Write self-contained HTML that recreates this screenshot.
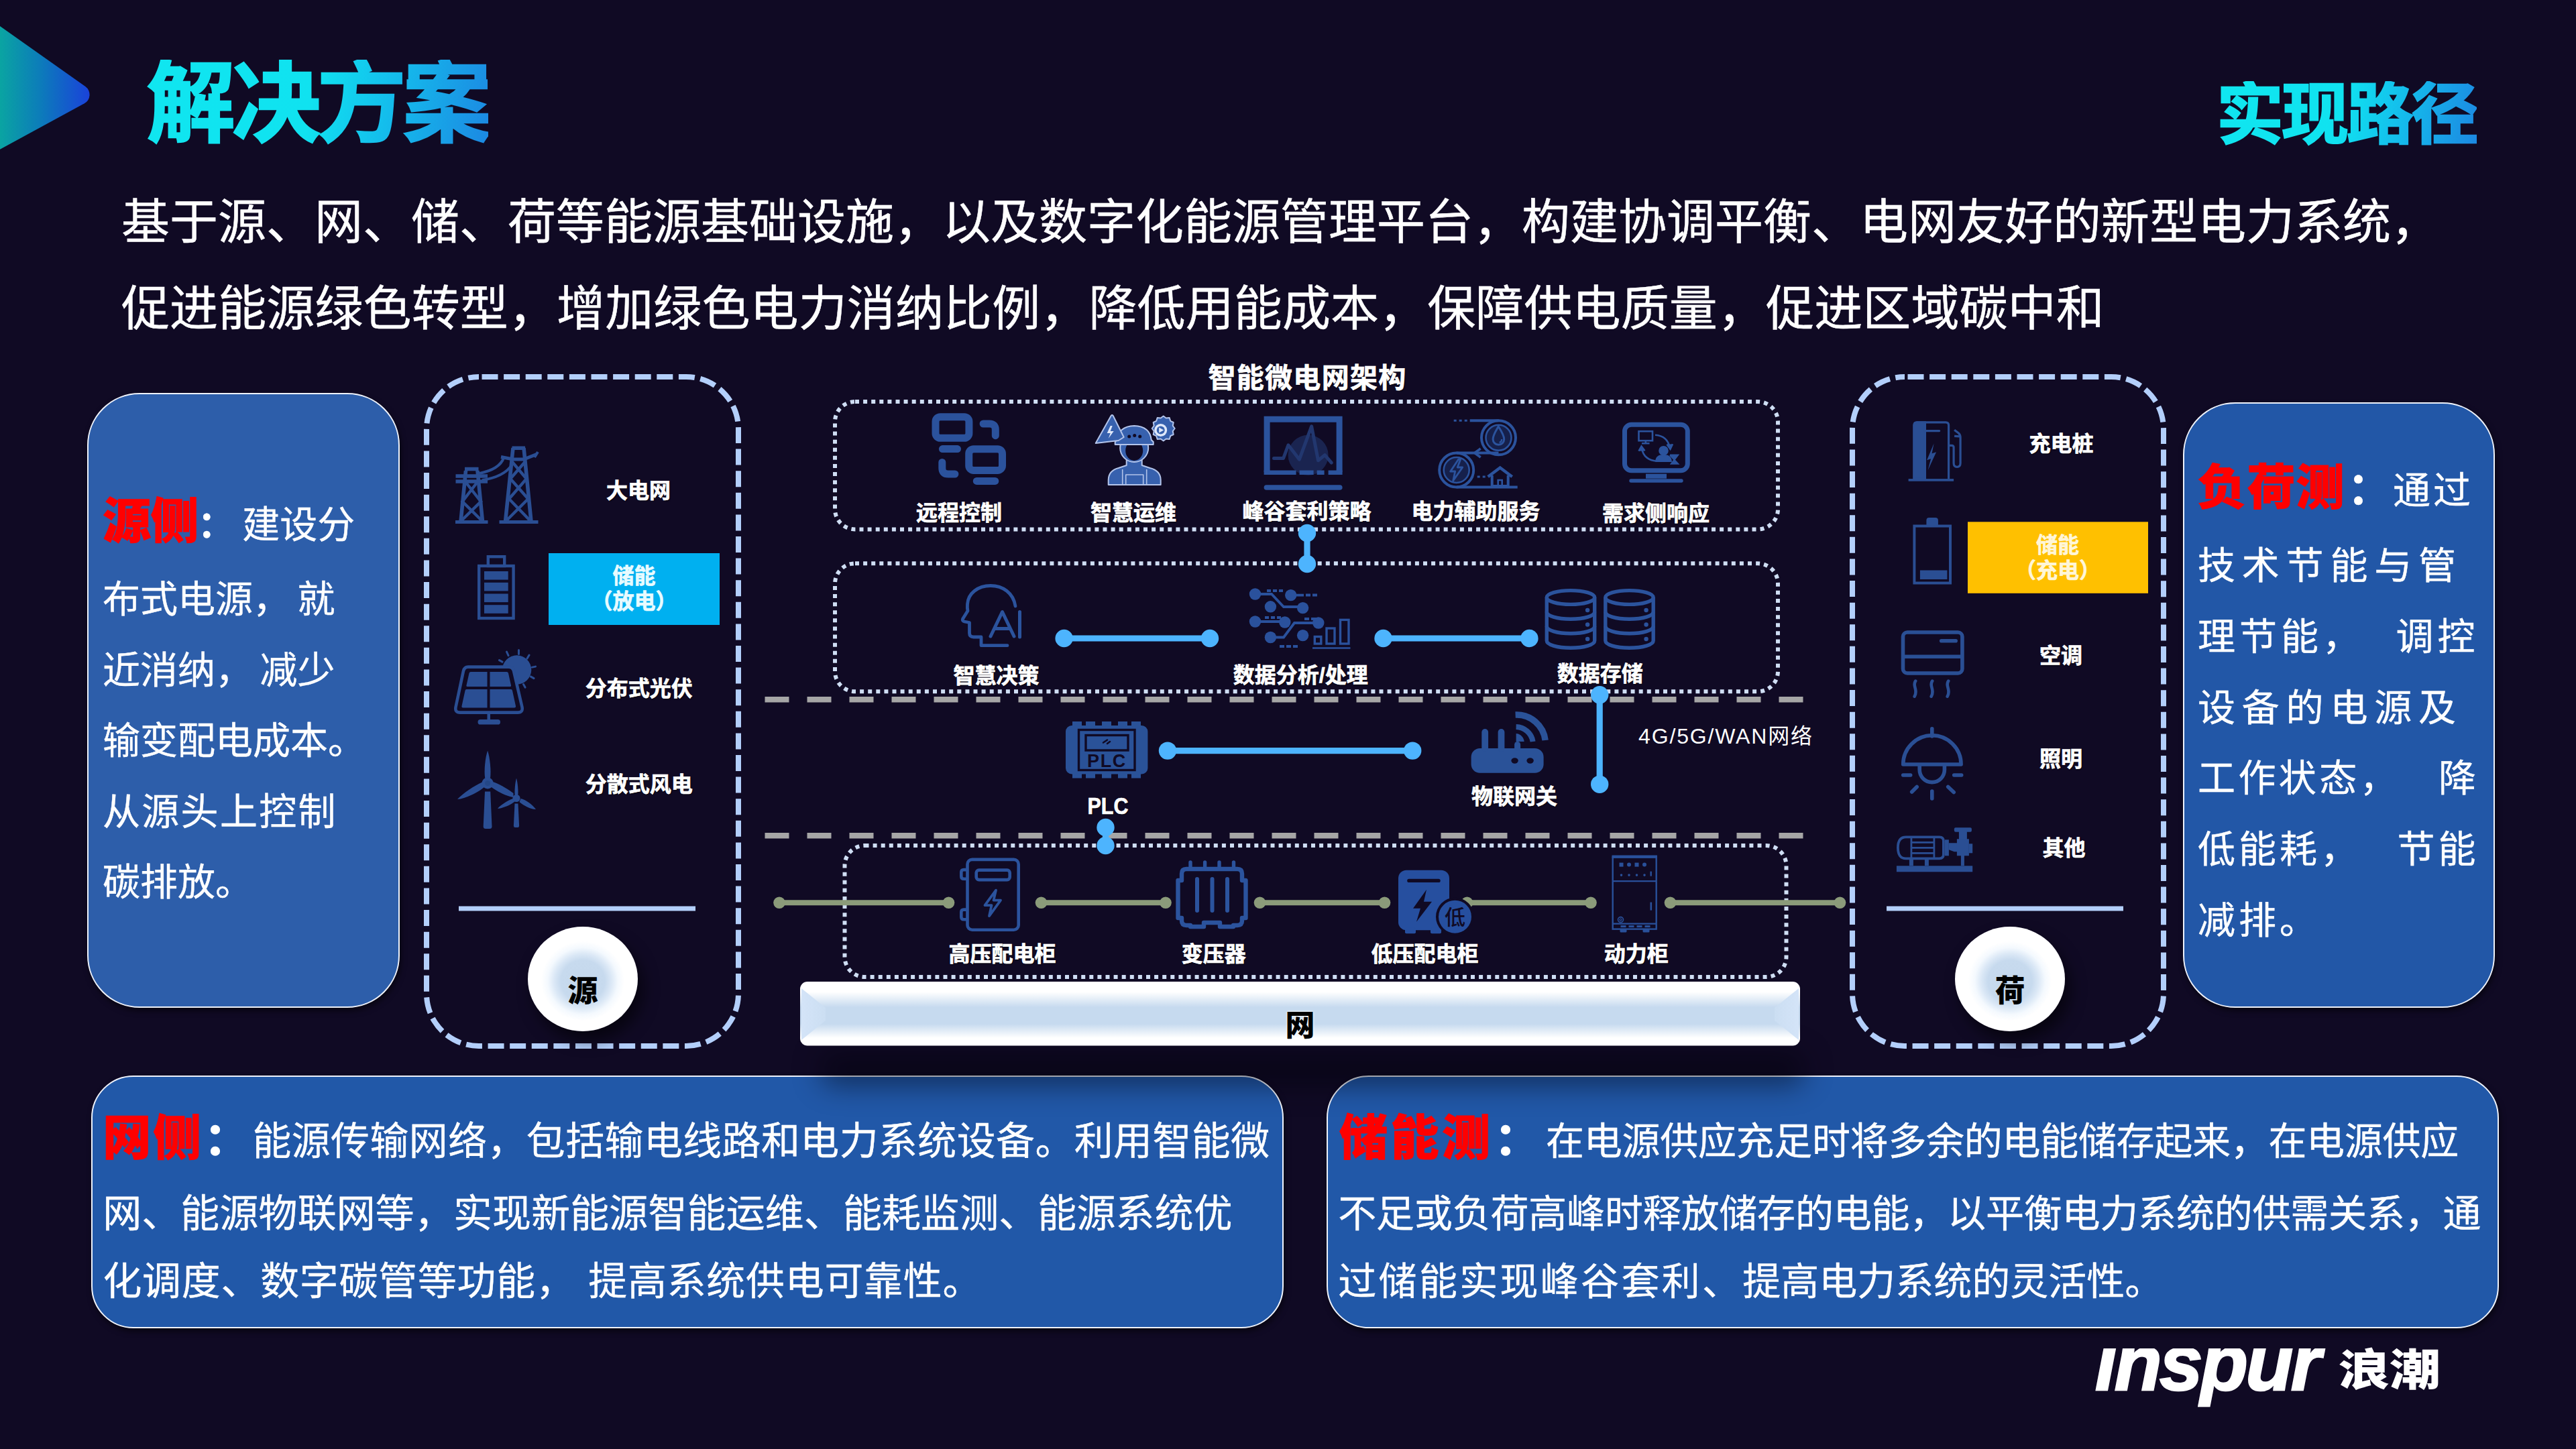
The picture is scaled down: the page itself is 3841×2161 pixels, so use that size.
<!DOCTYPE html>
<html lang="zh-CN">
<head>
<meta charset="utf-8">
<title>解决方案 - 实现路径</title>
<style>
html,body{margin:0;padding:0;}
body{width:3841px;height:2161px;overflow:hidden;background:#100a24;position:relative;
  font-family:"Liberation Sans","Noto Sans CJK SC",sans-serif;color:#fff;}
.abs{position:absolute;}
.t{position:absolute;white-space:nowrap;line-height:1;}
.grad{background:linear-gradient(100deg,#10e6f0 0%,#10e2f0 48%,#14bdec 70%,#1c88e2 100%);-webkit-background-clip:text;background-clip:text;color:transparent;font-weight:700;-webkit-text-stroke:2.4px transparent;}
#title{left:218.500px;top:89px;font-size:132.500px;letter-spacing:-5.200px;}
#sub{left:3305px;top:120.500px;font-size:100px;letter-spacing:-3px;}
.body{left:181px;font-size:72px;font-weight:400;letter-spacing:0;-webkit-text-stroke:.5px #fff;}
.panel{position:absolute;background:#2b5ba9;border:2.2px solid #eef2fa;box-sizing:border-box;box-shadow:2px 5px 9px rgba(0,0,0,.5);}
.pl{position:absolute;height:120px;line-height:120px;white-space:nowrap;-webkit-text-stroke:.4px #fff;}
.pl span{display:inline-block;line-height:120px;vertical-align:baseline;}
.red{-webkit-text-stroke:1px #ff0000;color:#ff0000;font-weight:900;font-size:72px;letter-spacing:-.6px;}
.colon{font-weight:700;font-size:66px;}
.dash{position:absolute;box-sizing:border-box;}
.lbl{margin-top:-.2px;position:absolute;white-space:nowrap;line-height:1;font-weight:700;font-size:32px;transform:translate(-50%,-50%);text-align:center;text-shadow:1px 1px 2px rgba(0,0,0,.8);-webkit-text-stroke-width:.7px;}
.lbl2{position:absolute;white-space:nowrap;line-height:1;font-weight:700;font-size:33px;transform:translate(-50%,-50%) scaleX(.92);text-align:center;}
.ball{position:absolute;width:164px;height:156px;border-radius:50%;background:radial-gradient(ellipse 50% 50% at 50% 52%,#c5d8ec 0%,#c7daee 40%,#dbe8f6 52%,#f4f9fe 64%,#ffffff 76%,#ffffff 100%);box-shadow:8px 14px 22px rgba(0,0,0,.55);}
.ball span{position:absolute;left:0;right:0;top:73.5px;text-align:center;color:#000;font-weight:900;font-size:45px;line-height:1;}
svg{position:absolute;left:0;top:0;overflow:visible;}
</style>
</head>
<body>
<!-- top-left arrow -->
<svg width="3841" height="2161" viewBox="0 0 3841 2161">
  <defs>
    <linearGradient id="tri" x1="0" y1="0" x2="1" y2="0">
      <stop offset="0" stop-color="#0aa4a2"/><stop offset="0.45" stop-color="#0c7cba"/><stop offset="1" stop-color="#1a42da"/>
    </linearGradient>
  </defs>
  <path d="M0 39 L127.300 128.900 A15 15 0 0 1 125.800 154.300 L0 222.700 Z" fill="url(#tri)"/>
</svg>
<div class="t grad" id="title">解决方案</div>
<div class="t grad" id="sub">实现路径</div>
<div class="t body" style="top:294.500px;">基于源、网、储、荷等能源基础设施，以及数字化能源管理平台，构建协调平衡、电网友好的新型电力系统，</div>
<div class="t body" style="top:424px;letter-spacing:.12px;">促进能源绿色转型，增加绿色电力消纳比例，降低用能成本，保障供电质量，促进区域碳中和</div>


<!-- left panel: 源侧 -->
<div class="panel" style="left:130px;top:585.5px;width:466px;height:917px;border-radius:78px;background:#2d5eaa;"></div>
<div class="pl" style="left:153px;top:717px;font-size:56px;"><span class="red">源侧</span><span class="colon" style="margin-left:-1px;font-size:54px;margin-right:12px">：</span><span style="margin-left:.5px">建设分</span></div>
<div class="pl" style="left:153px;top:834px;font-size:56px;word-spacing:-5px;">布式电源， 就</div>
<div class="pl" style="left:153px;top:939.6px;font-size:56px;word-spacing:-5px;">近消纳， 减少</div>
<div class="pl" style="left:153px;top:1045.2px;font-size:56px;">输变配电成本。</div>
<div class="pl" style="left:153px;top:1150.8px;font-size:56px;letter-spacing:2.3px;">从源头上控制</div>
<div class="pl" style="left:153px;top:1256.4px;font-size:56px;">碳排放。</div>

<!-- right panel: 负荷测 -->
<div class="panel" style="left:3254.500px;top:599.500px;width:465px;height:903px;border-radius:78px;background:#2257a7;"></div>
<div class="pl" style="left:3277px;top:667px;font-size:56px;width:413px;display:flex;justify-content:space-between;"><span><span class="red" style="letter-spacing:1.2px">负荷测</span><span class="colon" style="margin-left:3.500px;margin-right:-2.500px">：</span></span><span style="letter-spacing:4px;margin-right:2px;position:relative;top:5px">通过</span></div>
<div class="pl" style="left:3277px;top:784px;font-size:56px;letter-spacing:9.8px;">技术节能与管</div>
<div class="pl" style="left:3277px;top:889.8px;font-size:56px;width:413px;display:flex;justify-content:space-between;letter-spacing:6px;"><span>理节能，</span><span style="margin-right:-6.500px">调控</span></div>
<div class="pl" style="left:3277px;top:995.5999999999999px;font-size:56px;letter-spacing:9.8px;">设备的电源及</div>
<div class="pl" style="left:3277px;top:1101.4px;font-size:56px;width:413px;display:flex;justify-content:space-between;letter-spacing:4.4px;"><span>工作状态，</span><span style="margin-right:-6.400px">降</span></div>
<div class="pl" style="left:3277px;top:1207.2px;font-size:56px;width:413px;display:flex;justify-content:space-between;letter-spacing:5px;"><span>低能耗，</span><span style="margin-right:-6.400px">节能</span></div>
<div class="pl" style="left:3277px;top:1313px;font-size:56px;letter-spacing:4.9px;">减排。</div>

<!-- bottom-left panel: 网侧 -->
<div class="panel" style="left:135.700px;top:1603.500px;width:1778.500px;height:377px;border-radius:63px;background:#2158a8;"></div>
<div class="pl" style="left:153.2px;top:1637px;font-size:57.9px;"><span class="red" style="letter-spacing:3px">网侧</span><span class="colon" style="margin-left:1.200px;margin-right:0px;-webkit-text-stroke:1.6px #fff">：</span><span style="margin-left:6px;letter-spacing:.46px">能源传输网络，包括输电线路和电力系统设备。利用智能微</span></div>
<div class="pl" style="left:153.2px;top:1750px;font-size:57.9px;letter-spacing:.2px;">网、能源物联网等，实现新能源智能运维、能耗监测、能源系统优</div>
<div class="pl" style="left:153.4px;top:1851px;font-size:57.9px;letter-spacing:.8px;word-spacing:2.7px;">化调度、数字碳管等功能， 提高系统供电可靠性。</div>

<!-- bottom-right panel: 储能测 -->
<div class="panel" style="left:1977.500px;top:1603.500px;width:1748.500px;height:377px;border-radius:63px;background:#2158a8;"></div>
<div class="pl" style="left:1997px;top:1637px;font-size:57px;"><span class="red" style="letter-spacing:4.500px">储能测</span><span class="colon" style="margin-left:2px;margin-right:1px;-webkit-text-stroke:1.6px #fff">：</span><span style="margin-left:9.600px;letter-spacing:-.3px">在电源供应充足时将多余的电能储存起来，在电源供应</span></div>
<div class="pl" style="left:1995.3px;top:1750px;font-size:57px;letter-spacing:-.2px;">不足或负荷高峰时释放储存的电能，以平衡电力系统的供需关系，通</div>
<div class="pl" style="left:1995.3px;top:1851px;font-size:57px;"><span style="letter-spacing:3.300px">过储能实现峰谷套利、</span><span>提高电力系统的灵活性。</span></div>
<!-- SECTION:PANELS-END -->
<div class="abs" id="barshadow" style="left:1222px;top:1570px;width:1470px;height:50px;background:rgba(0,0,8,.44);filter:blur(20px);border-radius:24px;"></div>


<svg id="dg" width="3841" height="2161" viewBox="0 0 3841 2161" fill="none">
  <defs>
    <linearGradient id="barg" x1="0" y1="0" x2="0" y2="1">
      <stop offset="0" stop-color="#ffffff"/><stop offset="0.16" stop-color="#ffffff"/>
      <stop offset="0.40" stop-color="#c6daef"/><stop offset="0.66" stop-color="#c6daef"/>
      <stop offset="0.88" stop-color="#ffffff"/><stop offset="1" stop-color="#ffffff"/>
    </linearGradient>
    <linearGradient id="bevL" x1="0" y1="0" x2="1" y2="0"><stop offset="0" stop-color="#d4e4f8"/><stop offset="1" stop-color="#cbdef2"/></linearGradient>
    <linearGradient id="bevR" x1="1" y1="0" x2="0" y2="0"><stop offset="0" stop-color="#d4e4f8"/><stop offset="1" stop-color="#cbdef2"/></linearGradient>
  </defs>
  <!-- dashed side containers -->
  <rect x="636" y="562" width="465" height="998" rx="78" stroke="#b3cffb" stroke-width="8" stroke-dasharray="24 8.6" stroke-dashoffset="-4.5"/>
  <rect x="2762" y="562" width="464" height="998" rx="78" stroke="#b3cffb" stroke-width="8" stroke-dasharray="24 8.6" stroke-dashoffset="-4.5"/>
  <rect x="684" y="1351.5" width="353" height="7" fill="#b3cffb"/>
  <rect x="2813" y="1351.5" width="353" height="7" fill="#b3cffb"/>
  <!-- grey dashed separators -->
  <line x1="1140.5" y1="1043.2" x2="2689" y2="1043.2" stroke="#a6a6a6" stroke-width="8.6" stroke-dasharray="36 27"/>
  <line x1="1140.5" y1="1246.2" x2="2689" y2="1246.2" stroke="#a6a6a6" stroke-width="8.6" stroke-dasharray="36 27"/>
  <!-- dotted boxes -->
  <g stroke="#cfdef4" stroke-width="6" stroke-dasharray="6 6.1">
    <rect x="1245" y="599" width="1406" height="190.4" rx="30"/>
    <rect x="1245" y="840.3" width="1406" height="191" rx="30"/>
    <rect x="1259.5" y="1261" width="1404" height="196" rx="30"/>
  </g>
  <!-- green feeder line -->
  <g stroke="#8b9b7a" stroke-width="8" fill="#8b9b7a">
    <line x1="1162" y1="1346.3" x2="1414.5" y2="1346.3"/><line x1="1552.5" y1="1346.3" x2="1738" y2="1346.3"/>
    <line x1="1878.5" y1="1346.3" x2="2064.5" y2="1346.3"/><line x1="2187.5" y1="1346.3" x2="2372" y2="1346.3"/>
    <line x1="2490.5" y1="1346.3" x2="2743.5" y2="1346.3"/>
    <g stroke="none">
      <circle cx="1162" cy="1346.3" r="8.8"/><circle cx="1414.5" cy="1346.3" r="8.8"/>
      <circle cx="1552.5" cy="1346.3" r="8.8"/><circle cx="1738" cy="1346.3" r="8.8"/>
      <circle cx="1878.5" cy="1346.3" r="8.8"/><circle cx="2064.5" cy="1346.3" r="8.8"/>
      <circle cx="2187.5" cy="1346.3" r="8.8"/><circle cx="2372" cy="1346.3" r="8.8"/>
      <circle cx="2490.5" cy="1346.3" r="8.8"/><circle cx="2743.5" cy="1346.3" r="8.8"/>
    </g>
  </g>
  <!-- blue connectors -->
  <g stroke="#4db4fe" stroke-width="9.2" fill="#4db4fe">
    <line x1="1949" y1="795" x2="1949" y2="841"/>
    <line x1="1586.6" y1="952" x2="1804" y2="952"/>
    <line x1="2062.5" y1="952" x2="2280.4" y2="952"/>
    <line x1="1741" y1="1119.6" x2="2106.2" y2="1119.6"/>
    <line x1="2385.2" y1="1036.3" x2="2385.2" y2="1169.7"/>
    <line x1="1648.5" y1="1234" x2="1648.5" y2="1261"/>
    <g stroke="none">
      <circle cx="1949" cy="795" r="13.2"/><circle cx="1949" cy="841" r="13.2"/>
      <circle cx="1586.6" cy="952" r="13.2"/><circle cx="1804" cy="952" r="13.2"/>
      <circle cx="2062.5" cy="952" r="13.2"/><circle cx="2280.4" cy="952" r="13.2"/>
      <circle cx="1741" cy="1119.6" r="13.2"/><circle cx="2106.2" cy="1119.6" r="13.2"/>
      <circle cx="2385.2" cy="1036.3" r="13.2"/><circle cx="2385.2" cy="1169.7" r="13.2"/>
      <circle cx="1648.5" cy="1234" r="13.2"/><circle cx="1648.5" cy="1261" r="13.2"/>
    </g>
  </g>
  <!-- colour blocks -->
  <rect x="818" y="825" width="255" height="107" fill="#00b0f0"/>
  <rect x="2934" y="778.3" width="269" height="106.5" fill="#ffc000"/>
  <!-- 网 bar -->
  <rect x="1193" y="1464" width="1491" height="95.5" rx="11" fill="url(#barg)"/>
  <path d="M1195 1474 L1231 1503 L1231 1522 L1195 1551 Z" fill="url(#bevL)"/>
  <path d="M2682 1474 L2646 1503 L2646 1522 L2682 1551 Z" fill="url(#bevR)"/>
  <!-- ===== left panel icons ===== -->
  <g id="ic-tower" transform="translate(679,666)" stroke="#2a4e93" stroke-width="5.6" stroke-linecap="butt" stroke-linejoin="miter">
    <path d="M0 112.5H48.5M65.5 112.5H123.5" stroke-width="5"/>
    <path d="M8 112L15.5 36M40.5 112L33 36M14 33.5H34.5M0.5 44H48M0.5 52H48" />
    <path d="M14.5 52L38 82L9.5 110M33.5 52L10.5 82L39 110" stroke-width="4.4"/>
    <path d="M74.5 112L86 2M113 112L102 2M84.5 2.3H104" />
    <path d="M84 22L106 48L80 78L111 110M104.5 22L82 48L108.500 78L76.500 110" stroke-width="4.4"/>
    <path d="M68 15.500L86 19L102 19L121 11.500" stroke-width="5"/>
    <path d="M36 40C55 36 68 28 72 17M40 50C60 47 76 40 84.500 27" stroke-width="4"/>
    <path d="M118 16L123 8" stroke-width="4"/>
  </g>
  <g id="ic-batt-l" transform="translate(712,828)" stroke="#2a4e93" stroke-width="4.4">
    <rect x="2.200" y="16" width="51.400" height="78"/>
    <rect x="15.800" y="2.200" width="24.400" height="13.800"/>
    <g fill="#2a4e93" stroke="none">
      <rect x="10" y="24" width="35.700" height="12.600"/><rect x="10" y="40.800" width="35.700" height="12.600"/>
      <rect x="10" y="57.500" width="35.700" height="12.600"/><rect x="10" y="74.200" width="35.700" height="12.600"/>
    </g>
  </g>
  <g id="ic-solar" transform="translate(679,968.600)" fill="#2a4e93">
    <circle cx="91.600" cy="30.400" r="21.700"/>
    <g stroke="#2a4e93" stroke-width="3" stroke-linecap="round">
      <path d="M76.500 3.500L79 9M94.500 1V7M110 8.500L107 13.500M119.500 25.500L114.500 26.500M117 43L112.500 40.500M104 56.500L101.500 52M65.500 16L70 18.500"/>
    </g>
    <path d="M19 26H79Q85.500 26 87 32L99.500 86Q101 94 93 94H7Q-1 94 0.500 86L12 32Q13.500 26 19 26Z" fill="#100a24"/>
    <path d="M19 26H79Q85.500 26 87 32L99.500 86Q101 94 93 94H7Q-1 94 0.500 86L12 32Q13.500 26 19 26Z" fill="none" stroke="#2a4e93" stroke-width="4.600"/>
    <path d="M23 33.500H47.500V55.500H18Q16 55.500 16.500 53.500L20.500 35.500Q21 33.500 23 33.500Z"/>
    <path d="M51.500 33.500H76.500Q78.500 33.500 79 35.500L83 53.500Q83.500 55.500 81.500 55.500H51.500Z"/>
    <path d="M16.500 59.500H47.500V87H11.500Q9 87 9.500 84.500L14.500 61.500Q15 59.500 16.500 59.500Z"/>
    <path d="M51.500 59.500H83Q84.500 59.500 85 61.500L90 84.500Q90.500 87 88 87H51.500Z"/>
    <rect x="47.500" y="95" width="4.500" height="11"/>
    <rect x="33.500" y="104.500" width="33.500" height="7.500" rx="3.700"/>
  </g>
  <g id="ic-wind" transform="translate(681.500,1119.500)" fill="#2a4e93">
    <path d="M45.600 0C49 10 51 30 49.500 41L41.700 41C40 30 42 10 45.600 0Z"/>
    <path d="M0.500 72.500C8 64 26 52 37.500 47L41 54C32 62 12 72 0.500 72.500Z"/>
    <path d="M53 46.500L50.500 54C60 61 76 69 84 69.500L84 63.500C74 56 62 49 53 46.500Z"/>
    <circle cx="45.600" cy="48.500" r="8.500"/><circle cx="45.600" cy="48.500" r="4" fill="#244786"/>
    <path d="M41.500 61H49.700L52 113Q52 116.500 48.500 116.500H42.700Q39.200 116.500 39.200 113Z"/>
    <path d="M88.500 41C90.500 48 91.500 60 90.800 66.500H86.200C85.500 60 86.500 48 88.500 41Z"/>
    <path d="M60.500 86.500C65 81 76 74 83.500 71.500L86 76C80 81 68 86 60.500 86.500Z"/>
    <path d="M117.500 87.500C111 88 99 82 93 76.500L95 71.500C102 73 112 80 117.500 87.500Z"/>
    <circle cx="88.500" cy="71" r="5.600"/>
    <path d="M86 79H91L92.600 112Q92.600 114.500 90.500 114.500H86.500Q84.400 114.500 84.400 112Z"/>
  </g>
  <!-- ===== right panel icons ===== -->
  <g id="ic-charger" transform="translate(2845.600,628.300)" stroke="#2a4e93" stroke-width="3.200" fill="none">
    <path d="M8.400 86V6Q8.400 1.600 12.800 1.600H55.600Q60 1.600 60 6V86"/>
    <path d="M8.400 86V6Q8.400 1.600 12.800 1.600H24.800V86Z" fill="#2a4e93"/>
    <rect x="0" y="85.800" width="67.500" height="3.600" fill="#2a4e93" stroke="none"/>
    <path d="M24.800 14.300H46" stroke-linecap="round"/>
    <path d="M38 33L27.500 58L33.500 56L29 73L41.500 46L35 48Z" fill="#2a4e93" stroke="none"/>
    <path d="M60 36H64.500Q67.500 36 67.500 39V62.500Q67.500 68 72.500 68Q77.500 68 77.500 62.500V24Q77.500 20 74.500 17.500L68.500 13"/>
    <path d="M68.500 22L76.500 22.500" />
  </g>
  <g id="ic-batt-r" transform="translate(2852.400,772)" stroke="#2a4e93" stroke-width="4">
    <rect x="2" y="12.500" width="53.600" height="85"/>
    <path d="M20 11V4Q20 0 24 0H33.500Q37.500 0 37.500 4V11Z" fill="#2a4e93" stroke="none"/>
    <rect x="10.500" y="78.500" width="40.500" height="13.500" fill="#2a4e93" stroke="none"/>
  </g>
  <g id="ic-ac" transform="translate(2834.700,940.200)" stroke="#2a4f94" stroke-width="5.600" stroke-linecap="round" fill="none">
    <rect x="2.800" y="2.800" width="88.400" height="61" rx="6.500"/>
    <path d="M3 39H91" stroke-linecap="butt"/>
    <path d="M60 15.500H81.500"/>
    <path d="M21.500 75.500C16 83 26 88 20 98.500M46.500 75.500C41 83 51 88 45 98.500M70.500 75.500C65 83 75 88 69 98.500" stroke-width="4.600"/>
  </g>
  <g id="ic-lamp" transform="translate(2834.700,1084)" stroke="#2a4f94" stroke-width="5.600" stroke-linecap="round" fill="none">
    <path d="M46.100 2.800V14"/>
    <path d="M3 56A43.200 43.200 0 0 1 89.400 56Z" stroke-linejoin="round"/>
    <path d="M27.500 58.500V64A18.600 18.600 0 0 0 64.700 64V58.500"/>
    <path d="M3 72H14M79 72H90M16 97L23.500 89.500M70 89.500L78.500 97.500M46.100 96V107"/>
  </g>
  <g id="ic-pump" transform="translate(2827.900,1234.300)" stroke="#2a4e93" stroke-width="3.800" fill="none">
    <rect x="0" y="57" width="113.300" height="9" fill="#2a4e93" stroke="none"/>
    <path d="M14 14H64Q70 14 70 20V40Q70 46 64 46H14Q2 46 2 30Q2 14 14 14Z"/>
    <path d="M22 14V46M22 22H56M22 30H56M22 38H56M56 14V46" stroke-width="2.800"/>
    <path d="M22 46V57M45 46V57" stroke-width="6"/>
    <g fill="#2a4e93" stroke="none">
      <rect x="72" y="18" width="6" height="24"/>
      <path d="M78 23H92V36H86L78 33Z"/>
      <rect x="86" y="0" width="26" height="6.500" rx="2"/>
      <rect x="93" y="5" width="12" height="14"/>
      <path d="M90 17H108V42H101V57H96V42H90Z"/>
      <rect x="108" y="24" width="5.300" height="14"/>
    </g>
  </g>
  <!-- ===== row 1 icons ===== -->
  <g id="ic-remote" transform="translate(1388.700,617)" stroke="#2b529c" stroke-width="11" stroke-linecap="round" stroke-linejoin="round" fill="none">
    <rect x="6.300" y="4.700" width="49.900" height="31.600" rx="7"/>
    <path d="M16.700 52.600H38.800"/>
    <rect x="56" y="52.700" width="49.800" height="31.700" rx="7"/>
    <path d="M67.600 100.400H95.100"/>
    <path d="M77.400 15H86.600Q95.600 15 95.600 24V32.700"/>
    <path d="M16.100 72.500V81Q16.100 90 25.100 90H35.200"/>
  </g>
  <g id="ic-worker" transform="translate(1631.700,618)" stroke="#b3c4ea" stroke-width="2" fill="#3761ae" stroke-linejoin="round">
    <path d="M21 105V98Q21 84 36 80L48 76V68H71V76L83 80Q99 84 99 98V105Z"/>
    <path d="M42 82V105M78 82V105M47 90H73V105H47Z" fill="none" stroke-width="1.600"/>
    <circle cx="59.500" cy="50" r="21"/>
    <ellipse cx="59.500" cy="54" rx="13" ry="15" fill="#100a24" stroke="none"/>
    <path d="M34 38Q36 18 59.500 17Q83 18 85 38L88 41V45H31V41Z"/>
    <circle cx="52" cy="33" r="2.500" fill="#100a24" stroke="none"/><circle cx="60" cy="31.500" r="2.500" fill="#100a24" stroke="none"/><circle cx="68" cy="33" r="2.500" fill="#100a24" stroke="none"/>
    <path d="M2 43L25 2Q26.500 0 28 2L44 34L36 39Z"/>
    <path d="M24 17L19 28H24L21 36L29 25H24L27 17Z" fill="#dfe8fa" stroke="none"/>
    <path d="M99 5.500l4 -3l4 3l5 -.500l1.500 4.800l4.500 2.200l-1 5l3 4l-3 4l1 5l-4.500 2.200l-1.500 4.800l-5 -.500l-4 3l-4 -3l-5 .500l-1.500 -4.800l-4.500 -2.200l1 -5l-3 -4l3 -4l-1 -5l4.500 -2.200l1.500 -4.800Z"/>
    <circle cx="99" cy="23.500" r="9.500" fill="#dfe8fa" stroke="none"/>
    <circle cx="99" cy="23.500" r="6" fill="#3761ae" stroke="none"/>
    <path d="M96.500 19.500L103.500 23.500L96.500 27.500Z" fill="#dfe8fa" stroke="none"/>
  </g>
  <g id="ic-laptop" transform="translate(1884.600,620.800)" fill="none">
    <circle cx="66" cy="58" r="30" fill="#1a2450"/>
    <path d="M14.900 62.700H29L36.300 43L52.800 64.400L71 15L80.900 66L90.800 57.800L100.700 69.300" stroke="#22376f" stroke-width="5" stroke-linejoin="round" stroke-linecap="round"/>
    <path d="M4.500 83V4.500H112.500V83" stroke="#2b539d" stroke-width="9"/>
    <path d="M0 84H48M53 84H74M79 84H90M96 84H117" stroke="#2b539d" stroke-width="6.500"/>
    <path d="M3.800 106.200H113.200" stroke="#2b539d" stroke-width="7.600" stroke-linecap="round"/>
  </g>
  <g id="ic-aux" transform="translate(2143.700,625)" stroke="#2b539d" stroke-width="4" fill="none" stroke-linecap="butt">
    <circle cx="90.800" cy="27.800" r="25.500"/><circle cx="90.800" cy="27.800" r="19" fill="#16204b" stroke-width="2.600"/>
    <circle cx="28" cy="76" r="25.500"/><circle cx="28" cy="76" r="19" fill="#16204b" stroke-width="2.600"/>
    <path d="M48 2.300H91"/><path d="M24 2.300H28M32 2.300H36M40 2.300H44" stroke-width="3"/>
    <path d="M28 50.500H90.800"/><path d="M64 44L55 50.500L64 57" stroke-width="3.600"/>
    <path d="M28 101.500H119"/><path d="M59 86H63M67 86H71" stroke-width="3"/>
    <path d="M90.500 11C95 18 99 24 99 30A8.300 8.300 0 0 1 82.400 30C82.400 24 86.500 18 90.500 11Z" stroke-width="3"/>
    <path d="M92 35Q95.500 34 95.500 30" stroke-width="2.400"/>
    <path d="M31 60L19 78H26L23 92L37 72H29.500L34 60Z" stroke-width="2.800" stroke-linejoin="round"/>
    <path d="M75 86L93 72.500L111 86" stroke-width="4.500"/><path d="M81 84V100H105V84" stroke-width="4"/><path d="M90 100V91H96V100" stroke-width="2.600"/>
  </g>
  <g id="ic-monitor" transform="translate(2419,629.700)" stroke="#2b539d" stroke-width="7" fill="none">
    <rect x="3.500" y="3.500" width="93.800" height="68.500" rx="10"/>
    <path d="M35 77H66V84H35Z" fill="#2b539d" stroke="none"/>
    <path d="M13 87.300H88" stroke-width="5.400" stroke-linecap="round"/>
    <g stroke-width="2.600">
      <rect x="24.500" y="13.500" width="20.500" height="14"/><path d="M29 31.500H40.500M34.800 27.500V31.500"/>
      <path d="M49 19Q67 20 71 38"/><path d="M66.500 33L71.500 40L75 32.500" fill="#2b539d"/>
      <path d="M53 58Q32 57 29 39"/><path d="M24.500 43L28.500 36L33.500 42.500" fill="#2b539d"/>
      <circle cx="61.500" cy="42.500" r="6" fill="#2b539d"/><path d="M50.500 58Q51 49.500 61.500 49.500Q72 49.500 72.500 58Z" fill="#2b539d"/>
      <path d="M71 49H83L73 62H83L71 49" stroke-width="2.200" fill="#2b539d"/>
    </g>
  </g>
  <!-- ===== row 2 icons ===== -->
  <g id="ic-ai" transform="translate(1433,871)" stroke="#2b539d" stroke-width="4.800" fill="none" stroke-linecap="round" stroke-linejoin="round">
    <path d="M81 33C78 13 62 2.500 44 2.500C25 2.500 10.500 14 9.500 30C9 36 10 40 10 40L2.500 52Q1.500 55 5 56L12.500 57.500V73Q12.500 79 18.500 79H30V91.700H69"/>
    <path d="M44 78L61.500 41.500L79 78M50 66.500H73M87.500 41.500V79" stroke-width="5"/>
  </g>
  <g id="ic-data" transform="translate(1864,878)" stroke="#2a519c" stroke-width="3.800" fill="#2a519c">
    <g fill="none">
      <path d="M7 8H32L50 27H78.600"/><path d="M60.700 9.600H80"/>
      <path d="M7 49H51.800"/><path d="M30.400 72.500H50L66 51H101.800"/>
      <path d="M30.400 26.800H36"/><path d="M78.600 69.600H84"/>
    </g>
    <g stroke="none">
      <circle cx="7.500" cy="8" r="8.700"/><circle cx="60.700" cy="9.600" r="8.700"/><circle cx="30.400" cy="26.800" r="8.700"/><circle cx="78.600" cy="28.600" r="8.700"/>
      <circle cx="7.500" cy="49" r="8.700"/><circle cx="51.800" cy="50" r="8.700"/><circle cx="101.800" cy="51" r="8.700"/><circle cx="30.400" cy="72.500" r="8.700"/><circle cx="78.600" cy="69.600" r="8.700"/>
      <path d="M25 1H31V5H25ZM34 1H40V5H34ZM43 1H49V5H43ZM83 7.500H90V11.500H83ZM93 7.500H100V11.500H93ZM22 41H28V45H22ZM31 41H37V45H31ZM40 41H46V45H40ZM81 43H88V47H81ZM91 43H98V47H91ZM44 84H51V88H44ZM54 84H61V88H54ZM64 84H71V88H64Z"/>
    </g>
    <g fill="none" stroke-width="3.400">
      <rect x="96.300" y="71.500" width="9.500" height="10.500"/><rect x="114" y="59" width="12" height="23"/><rect x="134.500" y="46.400" width="12.500" height="35.600"/>
      <path d="M93 88.500H149.500" stroke-width="2.600"/>
    </g>
  </g>
  <g id="ic-db" transform="translate(2303.600,878)" stroke="#2b539d" stroke-width="5.400" fill="none">
    <g id="cyl">
      <ellipse cx="38.400" cy="13" rx="35.700" ry="10.400"/>
      <path d="M2.700 13V77.500C2.700 83.500 18 88.300 38.400 88.300S74.100 83.500 74.100 77.500V13"/>
      <path d="M2.700 34.500C2.700 40.500 18 45.300 38.400 45.300S74.100 40.500 74.100 34.500M2.700 56C2.700 62 18 66.800 38.400 66.800S74.100 62 74.100 56"/>
      <g fill="#2b539d" stroke="none"><circle cx="63.500" cy="32" r="3.200"/><circle cx="63.500" cy="53.500" r="3.200"/><circle cx="63.500" cy="75" r="3.200"/></g>
    </g>
    <use href="#cyl" x="87.500"/>
  </g>
  <!-- ===== row 3 icons ===== -->
  <g id="ic-plc" transform="translate(1589,1076)" fill="#2a5298">
    <rect x="0" y="6" width="122.400" height="72.500" rx="9"/>
    <path d="M10 0H24V8H10ZM30 0H44V8H30ZM54 0H68V8H54ZM78 0H92V8H78ZM98 0H112V8H98ZM10 76H24V84.500H10ZM30 76H44V84.500H30ZM54 76H68V84.500H54ZM78 76H92V84.500H78ZM98 76H112V84.500H98Z"/>
    <rect x="19.500" y="12.500" width="83.500" height="60" fill="none" stroke="#100a24" stroke-width="3.400"/>
    <rect x="30" y="20.500" width="63" height="22.500" fill="none" stroke="#100a24" stroke-width="3.400"/>
    <path d="M56 31.500L62 27.500M62 33L66 30" stroke="#100a24" stroke-width="2.600" stroke-linecap="round"/>
    <text x="61.500" y="67.500" text-anchor="middle" font-family="Liberation Sans, sans-serif" font-weight="700" font-size="27" fill="#100a24" letter-spacing="1.6">PLC</text>
  </g>
  <g id="ic-gw" transform="translate(2193.600,1061)" fill="#2a5298">
    <rect x="0" y="55" width="108" height="36.800" rx="13"/>
    <rect x="15.700" y="26" width="9.800" height="34" rx="4.900"/><rect x="40" y="26" width="9.800" height="34" rx="4.900"/><rect x="64.500" y="45" width="9" height="14" rx="4.500"/>
    <ellipse cx="65" cy="73.500" rx="5.200" ry="4.200" fill="#100a24"/><ellipse cx="88" cy="73.500" rx="5.200" ry="4.200" fill="#100a24"/>
    <g fill="none" stroke="#2a5298" stroke-width="9.500">
      <path d="M66 5A43 43 0 0 1 110.500 43"/>
      <path d="M67 23A26 26 0 0 1 92 45" stroke-width="8"/>
    </g>
    <path d="M67 33A13 13 0 0 1 79 45L67 45Z"/>
  </g>
  <!-- ===== row 4 icons ===== -->
  <g id="ic-hv" transform="translate(1431,1279.600)" stroke="#2b539d" stroke-width="4.600" fill="none" stroke-linejoin="round">
    <rect x="11.500" y="2.300" width="76.200" height="104.800" rx="7"/>
    <rect x="24.700" y="18" width="50" height="14.500" rx="4"/>
    <path d="M11.500 17.500H6Q2.300 17.500 2.300 21.200V27.500Q2.300 31.200 6 31.200H11.500M11.500 77H6Q2.300 77 2.300 80.700V88Q2.300 91.700 6 91.700H11.500"/>
    <path d="M54 48L37.500 70.500H47.500L44 86.500L61 63H50.500Z" stroke-width="3.800"/>
  </g>
  <g id="ic-tr" transform="translate(1753,1283)" stroke="#2b539d" stroke-width="6.400" fill="none" stroke-linejoin="round" stroke-linecap="round">
    <path d="M16 13H92Q99 13 99 20V30H104.500V86H99V90Q99 97 92 97H86V99H66V93H42V99H22V97H16Q9 97 9 90V86H3.500V30H9V20Q9 13 16 13Z"/>
    <path d="M22 3V12M43.600 3V12M65 3V12M86.500 3V12" stroke-width="5.400"/>
    <path d="M32 28V75M54.500 28V75M77 28V75" stroke-width="6"/>
  </g>
  <g id="ic-lv" transform="translate(2085,1297.700)" fill="#264f9f">
    <rect x="0" y="0" width="76" height="89.500" rx="12"/>
    <rect x="10" y="86" width="16" height="8.500" rx="2"/><rect x="48" y="86" width="16" height="8.500" rx="2"/>
    <rect x="13.200" y="13" width="49.500" height="5.400" rx="2.700" fill="#100a24"/>
    <path d="M42 29L22 57H33L27 77L50 47H38Z" fill="#100a24"/>
    <circle cx="84.500" cy="69.500" r="28.500" fill="#100a24"/>
    <circle cx="84.500" cy="69.500" r="24.500"/>
    <text x="84.500" y="81" text-anchor="middle" font-family="Liberation Sans, Noto Sans CJK SC, sans-serif" font-weight="500" font-size="31" fill="#100a24">低</text>
  </g>
  <g id="ic-pw" transform="translate(2403.500,1275.600)" stroke="#29509a" stroke-width="2.400" fill="none">
    <rect x="1.200" y="3" width="65" height="107"/>
    <path d="M0 2H67.500" stroke-width="4"/>
    <path d="M1.200 38.500H66.200M1.200 102H66.200"/>
    <g fill="#29509a" stroke="none">
      <rect x="11" y="11" width="6" height="6"/><circle cx="25.500" cy="14" r="3"/><rect x="34" y="11" width="6" height="6"/><circle cx="48.500" cy="14" r="3"/>
      <circle cx="14" cy="29.500" r="1.800"/><circle cx="25.500" cy="29.500" r="1.800"/><circle cx="37" cy="29.500" r="1.800"/><circle cx="48.500" cy="29.500" r="1.800"/><rect x="57" y="24" width="2.400" height="7"/>
      <rect x="57" y="70" width="2.600" height="12"/>
      <rect x="13" y="104.500" width="8" height="3"/><rect x="25" y="104.500" width="8" height="3"/><rect x="37" y="104.500" width="8" height="3"/><rect x="49" y="104.500" width="8" height="3"/>
      <rect x="12" y="110" width="10" height="5" rx="1.500"/><rect x="46" y="110" width="10" height="5" rx="1.500"/>
    </g>
    <circle cx="13" cy="96" r="4" stroke-width="1.600"/><circle cx="13" cy="96" r="1.600" stroke-width="1.200"/>
  </g>
<!-- ICONS-END -->
</svg>
<div class="lbl" style="left:1949.5px;top:564.5px;font-size:41px;letter-spacing:1.3px;">智能微电网架构</div>
<div class="lbl" style="left:1430px;top:765px;">远程控制</div>
<div class="lbl" style="left:1690px;top:765px;">智慧运维</div>
<div class="lbl" style="left:1948.5px;top:763px;">峰谷套利策略</div>
<div class="lbl" style="left:2200.6px;top:763px;">电力辅助服务</div>
<div class="lbl" style="left:2469px;top:765.7px;">需求侧响应</div>
<div class="lbl" style="left:1485.5px;top:1008.5px;">智慧决策</div>
<div class="lbl" style="left:1939.3px;top:1007.5px;">数据分析/处理</div>
<div class="lbl" style="left:2385.7px;top:1005.5px;">数据存储</div>
<div class="lbl" style="left:2258px;top:1187.7px;">物联网关</div>
<div class="lbl" style="left:1494.6px;top:1423.6px;">高压配电柜</div>
<div class="lbl" style="left:1809.8px;top:1423.6px;">变压器</div>
<div class="lbl" style="left:2124.4px;top:1423.6px;">低压配电柜</div>
<div class="lbl" style="left:2439.8px;top:1423.6px;">动力柜</div>
<div class="lbl" style="left:1652px;top:1201.6px;font-size:35px;transform:translate(-50%,-50%) scaleX(.87);">PLC</div>
<div class="t" style="left:2443px;top:1082px;font-size:32px;letter-spacing:1.85px;">4G/5G/WAN网络</div>
<div class="lbl" style="left:952px;top:732px;">大电网</div>
<div class="lbl" style="left:952.7px;top:1027px;">分布式光伏</div>
<div class="lbl" style="left:952.7px;top:1169.8px;">分散式风电</div>
<div class="lbl" style="left:3073.5px;top:661.8px;">充电桩</div>
<div class="lbl" style="left:3073px;top:978.2px;">空调</div>
<div class="lbl" style="left:3073px;top:1131.8px;">照明</div>
<div class="lbl" style="left:3077.4px;top:1265.3px;">其他</div>
<div class="lbl" style="left:945.5px;top:878px;line-height:38px;color:#e8fbff;text-shadow:none;">储能<br>（放电）</div>
<div class="lbl" style="left:3068px;top:832.5px;line-height:38px;color:#fff6d8;text-shadow:none;">储能<br>（充电）</div>
<div class="ball" style="left:787px;top:1382px;"><span>源</span></div>
<div class="ball" style="left:2915px;top:1382px;"><span>荷</span></div>
<div class="lbl" style="left:1938.4px;top:1529.7px;color:#000;font-size:44px;font-weight:900;-webkit-text-stroke:0;text-shadow:0 0 3px #fff,0 0 3px #fff;">网</div>
<!-- SECTION:LABELS-END -->

<div class="t" id="logo-en" style="left:3124px;top:1975px;font-size:116px;font-weight:700;font-style:italic;letter-spacing:-3.5px;-webkit-text-stroke:2.6px #fff;font-family:'Liberation Sans',sans-serif;clip-path:inset(36px -20px -40px -20px);">inspur</div>
<div class="t" id="logo-cn" style="left:3486.500px;top:2011.500px;font-size:64.500px;font-weight:900;transform-origin:0 0;transform:scaleX(1.18);">浪潮</div>
<!-- SECTION:LOGO-END -->
</body>
</html>
